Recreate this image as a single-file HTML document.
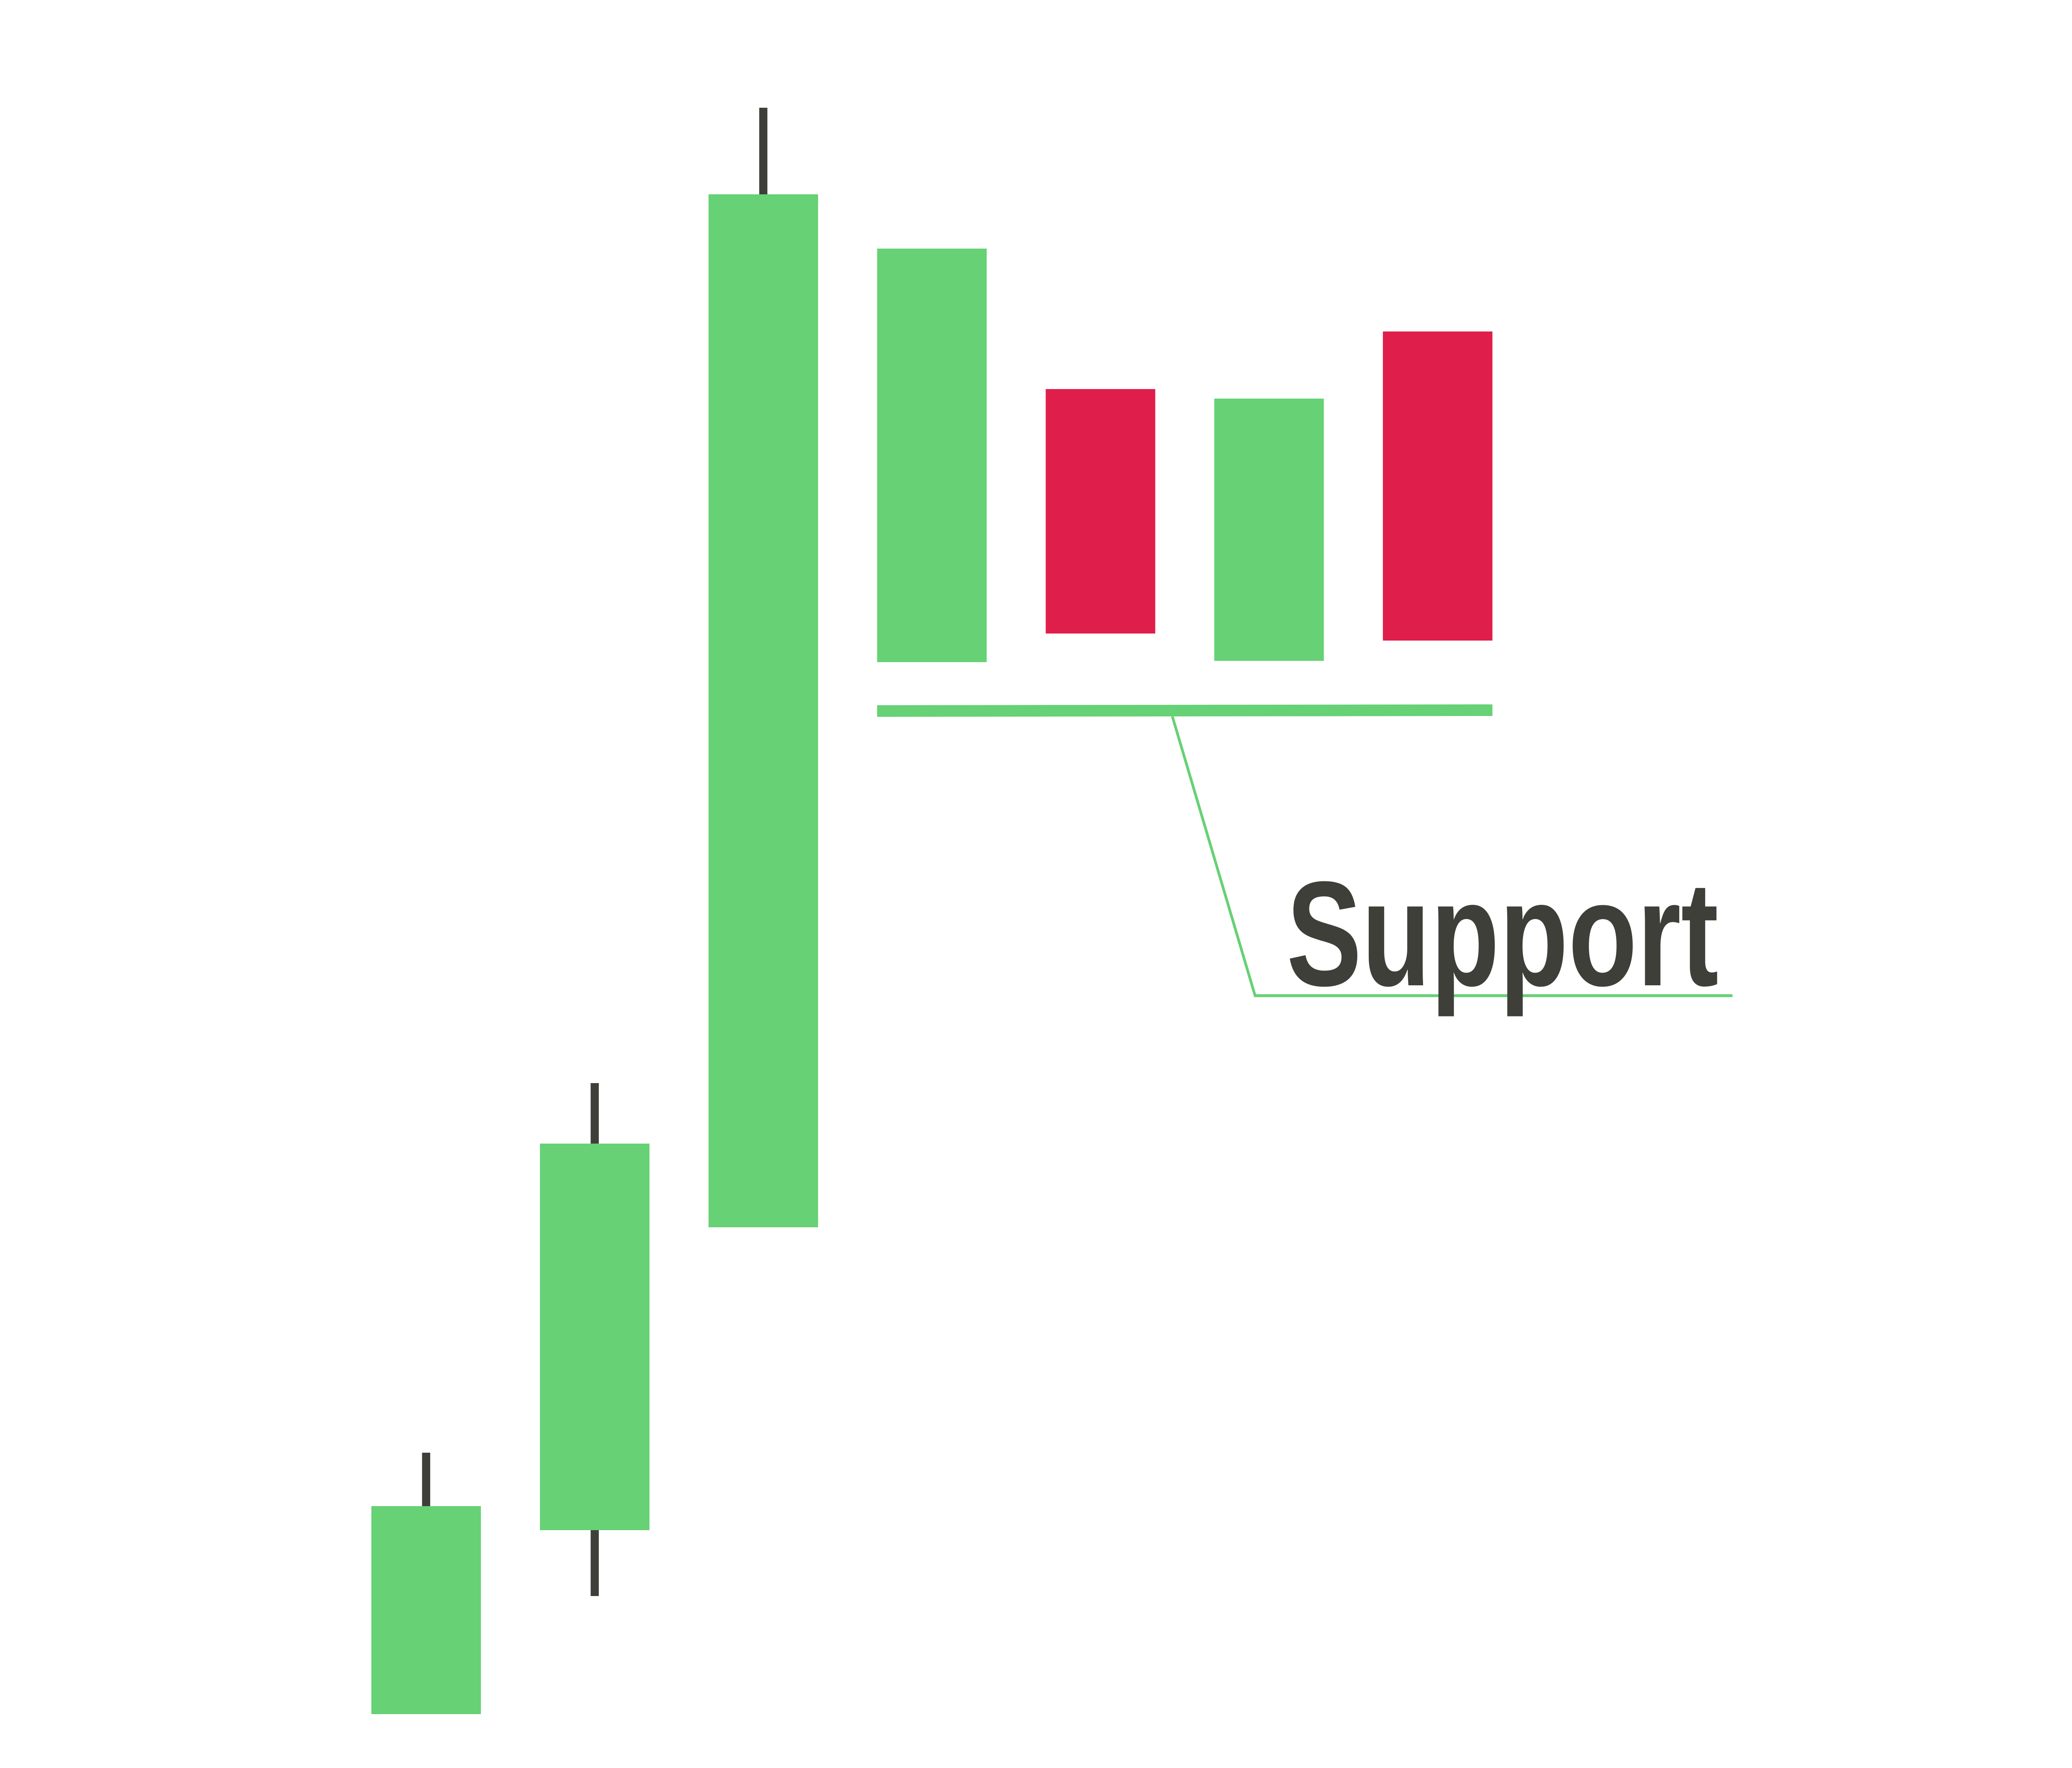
<!DOCTYPE html>
<html><head><meta charset="utf-8"><style>
html,body{margin:0;padding:0;background:#fff;width:100%;height:100%;overflow:hidden}
svg{display:block;position:fixed;left:0;top:0;width:100vw;height:100vh}
</style></head>
<body>
<svg id="chart" xmlns="http://www.w3.org/2000/svg" viewBox="0 0 5334 4267" preserveAspectRatio="none">
<rect width="5334" height="4267" fill="#fff"/>
<g id="candles"></g>
<g id="support"></g>
</svg>
<script>
const opens  = [11.5, 55.9, 129.0, 265.4, 331.3, 265.7, 345.2];
const closes = [61.7, 149.2, 378.3, 365.2, 272.3, 329.0, 270.6];
const highs  = [74.6, 163.8, 399.2, 365.2, 331.3, 329.0, 345.2];
const lows   = [11.5, 40.0, 129.0, 265.4, 272.3, 265.7, 270.6];
const supportLevel = [253.6, 253.8];

const NS = 'http://www.w3.org/2000/svg';
function x(i){ return 1097 + i*434; }
function y(v){ return 4252 - v*10; }
const bodyW = 282, wickW = 21;
const g = document.getElementById('candles');
for (let i = 0; i < opens.length; i++) {
  const up = closes[i] >= opens[i];
  const top = Math.max(opens[i], closes[i]), bot = Math.min(opens[i], closes[i]);
  if (highs[i] > top) {
    const w = document.createElementNS(NS, 'rect');
    
    
    w.setAttribute('x', x(i) - wickW/2); w.setAttribute('y', y(highs[i]));
    w.setAttribute('width', wickW); w.setAttribute('height', y(top) - y(highs[i]));
    w.setAttribute('fill', '#3f3f3a'); g.appendChild(w);
  }
  if (lows[i] < bot) {
    const w = document.createElementNS(NS, 'rect');
    
    
    w.setAttribute('x', x(i) - wickW/2); w.setAttribute('y', y(bot));
    w.setAttribute('width', wickW); w.setAttribute('height', y(lows[i]) - y(bot));
    w.setAttribute('fill', '#3f3f3a'); g.appendChild(w);
  }
  const b = document.createElementNS(NS, 'rect');
  
  
  b.setAttribute('x', x(i) - bodyW/2); b.setAttribute('y', y(top));
  b.setAttribute('width', bodyW); b.setAttribute('height', y(bot) - y(top));
  b.setAttribute('fill', up ? '#66d175' : '#e01e4c'); g.appendChild(b);
}
const s = document.getElementById('support');
const x0 = x(3) - bodyW/2, x1 = x(6) + bodyW/2;
const line = document.createElementNS(NS, 'line');


line.setAttribute('x1', x0); line.setAttribute('y1', y(supportLevel[0]));
line.setAttribute('x2', x1); line.setAttribute('y2', y(supportLevel[1]));
line.setAttribute('stroke', '#66d175'); line.setAttribute('stroke-width', 28);
s.appendChild(line);
const lx = 3018, ly = y((supportLevel[0]+supportLevel[1])/2) + 14;
const leader = document.createElementNS(NS, 'polyline');


leader.setAttribute('points', lx + ',' + ly + ' 3231,2403 4460,2403');
leader.setAttribute('fill', 'none'); leader.setAttribute('stroke', '#66d175'); leader.setAttribute('stroke-width', 7);
s.appendChild(leader);
const t = document.createElementNS(NS, 'text');


t.setAttribute('x', 3312); t.setAttribute('y', 2378);
t.setAttribute('textLength', 1112); t.setAttribute('lengthAdjust', 'spacingAndGlyphs');
t.setAttribute('font-family', '"Liberation Sans", sans-serif');
t.setAttribute('font-weight', 'bold'); t.setAttribute('font-size', 360);
t.setAttribute('fill', '#3f3f3a');
t.textContent = 'Support';
s.appendChild(t);
</script>
</body></html>
